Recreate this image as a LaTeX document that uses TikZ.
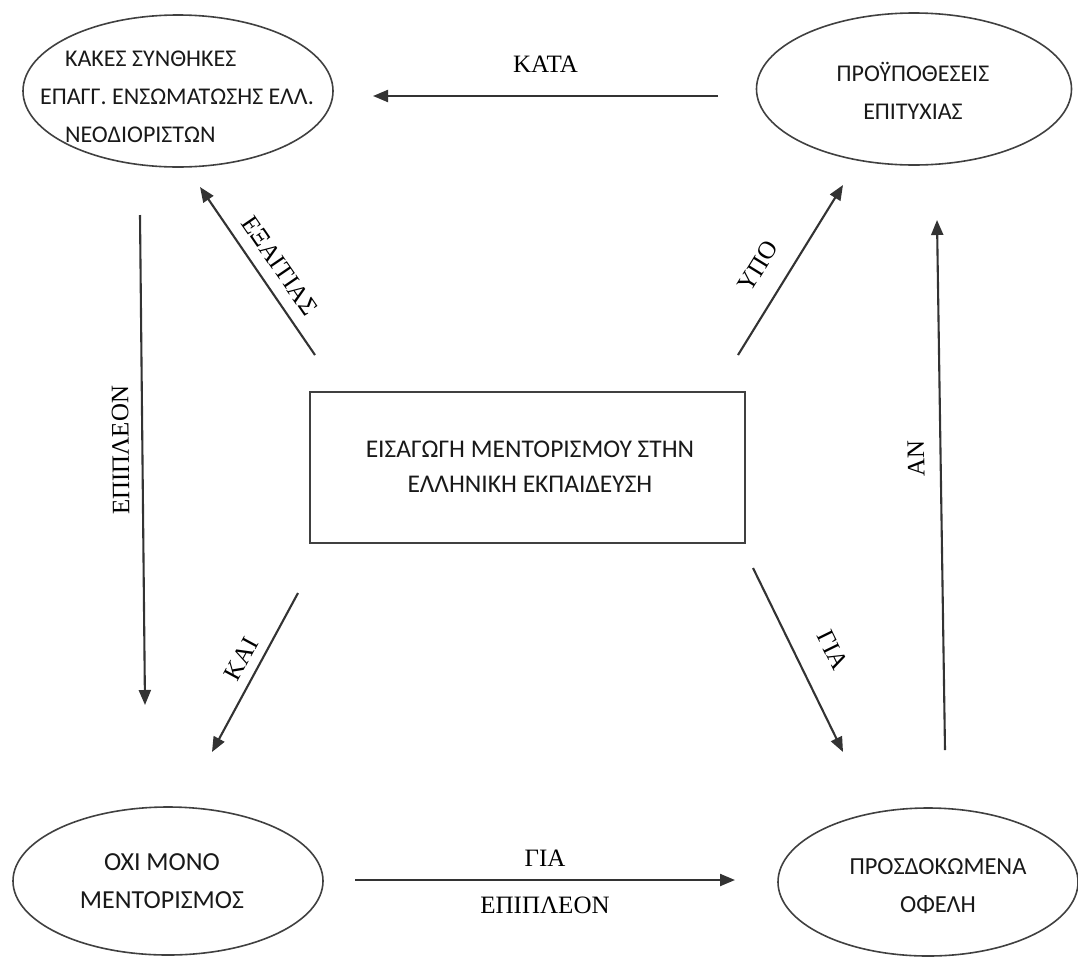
\documentclass[tikz,border=0pt]{standalone}
\usepackage{fontspec}
\setmainfont{Liberation Serif}
\newfontfamily\ellfont{Carlito}
\usetikzlibrary{arrows.meta,shapes.geometric,positioning}

\begin{document}
\begin{tikzpicture}[x=1pt,y=-1pt,>={Triangle[length=15pt,width=12pt]},
   idea/.style={ellipse,draw=black!75,line width=1.6pt,inner sep=0pt},
   txt/.style={align=center,text=black!90,font=\ellfont\fontsize{24}{38}\selectfont},
   lbl/.style={font=\fontsize{25}{30}\selectfont},
   every edge/.append style={draw=black!80,line width=2.1pt}]
   \useasboundingbox (0,0) rectangle (1078,956);

   % ellipses and box
   \node[idea,minimum width=310pt,minimum height=152pt] (kakes) at (178,91) {};
   \node[idea,minimum width=315pt,minimum height=152pt] (proyp) at (914,89) {};
   \node[idea,minimum width=310pt,minimum height=148pt] (oxi) at (168,881) {};
   \node[idea,minimum width=300pt,minimum height=148pt] (ofeli) at (928,882) {};
   \node[draw=black!75,line width=1.6pt,minimum width=435pt,minimum height=151pt] (eisag) at (527.5,467.5) {};

   \node[txt,align=left] (kakes-t) at (177,97) {\hspace*{25pt}ΚΑΚΕΣ ΣΥΝΘΗΚΕΣ\\ΕΠΑΓΓ. ΕΝΣΩΜΑΤΩΣΗΣ ΕΛΛ.\\\hspace*{25pt}ΝΕΟΔΙΟΡΙΣΤΩΝ};
   \node[txt] (proyp-t) at (913,91) {ΠΡΟΫΠΟΘΕΣΕΙΣ\\ΕΠΙΤΥΧΙΑΣ};
   \node[txt,font=\ellfont\fontsize{26}{38}\selectfont] (oxi-t) at (162,881) {ΟΧΙ  ΜΟΝΟ\\ΜΕΝΤΟΡΙΣΜΟΣ};
   \node[txt,font=\ellfont\fontsize{24.5}{38}\selectfont] (ofeli-t) at (938,886) {ΠΡΟΣΔΟΚΩΜΕΝΑ\\ΟΦΕΛΗ};
   \node[txt,font=\ellfont\fontsize{25.5}{35}\selectfont] (eisag-t) at (530,467) {ΕΙΣΑΓΩΓΗ  ΜΕΝΤΟΡΙΣΜΟΥ ΣΤΗΝ\\ΕΛΛΗΝΙΚΗ ΕΚΠΑΙΔΕΥΣΗ};

   % arrow ends
   \coordinate (kata-s) at (718,96);  \coordinate (kata-e) at (373,96);
   \coordinate (exa-s) at (315,355);  \coordinate (exa-e) at (200,187);
   \coordinate (epi-s) at (140,215);  \coordinate (epi-e) at (145,705);
   \coordinate (kai-s) at (298,593);  \coordinate (kai-e) at (212,752);
   \coordinate (ypo-s) at (738,355);  \coordinate (ypo-e) at (843,185);
   \coordinate (gia-s) at (753,568);  \coordinate (gia-e) at (843,752);
   \coordinate (an-s) at (945,750);   \coordinate (an-e) at (937,220);
   \coordinate (bot-s) at (355,880);  \coordinate (bot-e) at (735,880);

   \path[->]
   (kata-s) edge node[lbl,above=19pt] {ΚΑΤΑ} (kata-e)
   (exa-s) edge node[lbl,pos=.46,sloped,above=9pt] {ΕΞΑΙΤΙΑΣ} (exa-e)
   (kai-s) edge node[lbl,pos=.47,sloped,above=6pt] {ΚΑΙ} (kai-e)
   (ypo-s) edge node[lbl,pos=.43,sloped,above=17pt] {ΥΠΟ} (ypo-e)
   (gia-s) edge node[lbl,pos=.53,sloped,above=23pt] {ΓΙΑ} (gia-e)
   (an-s) edge node[lbl,pos=.55,sloped,allow upside down,above=12pt] {ΑΝ} (an-e)
   (bot-s) edge node[lbl,above=9pt] {ΓΙΑ} node[lbl,below=13pt] {ΕΠΙΠΛΕΟΝ} (bot-e)
   (epi-e) edge[<-] node[lbl,pos=.52,sloped,allow upside down,above=9pt] {ΕΠΙΠΛΕΟΝ} (epi-s);
\end{tikzpicture}
\end{document}
